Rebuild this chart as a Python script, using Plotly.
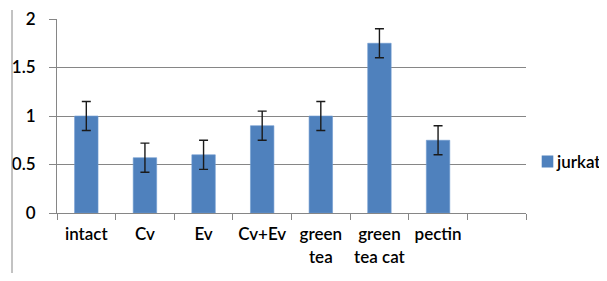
import plotly.graph_objects as go

categories = ["intact", "Cv", "Ev", "Cv+Ev", "green<br>tea", "green<br>tea cat", "pectin", " "]
values = [1.0, 0.57, 0.60, 0.90, 1.0, 1.75, 0.75, None]
errors = [0.15, 0.15, 0.15, 0.15, 0.15, 0.15, 0.15, None]
series_name = "jurkat"
y_ticks = [0, 0.5, 1, 1.5, 2]
y_tick_labels = ["0", "0.5", "1", "1.5", "2"]

FONT = "Lato"
FS = 17
WEIGHT = 600
BAR_COLOR = "#4F81BD"
# page is shown with an 8px body margin; compensate (no vertical overflow)
OFF = 8
W, H = 607 - OFF, 281 - 2 * OFF
L, T = 57 - OFF, 19 - OFF
PW, PH = 469, 194


def px(page_x):
    return (page_x - OFF - L) / PW


def py(page_y):
    return (PH - (page_y - OFF - T)) / PH


fig = go.Figure()
fig.add_trace(go.Bar(
    x=categories, y=values, name=series_name, showlegend=False,
    marker=dict(color=BAR_COLOR, line=dict(color="#6E9AD0", width=0.6)),
    error_y=dict(type="data", array=errors, visible=True,
                 color="#1a1a1a", thickness=1.4, width=4.5),
    width=0.4,
))

fig.update_layout(
    width=W, height=H,
    margin=dict(l=L, r=W - L - PW, t=T, b=H - T - PH, autoexpand=False, pad=0),
    paper_bgcolor="white", plot_bgcolor="white",
    font=dict(family=FONT, size=FS, color="#000000"),
    bargap=0.6,
)

fig.update_xaxes(
    type="category", categoryorder="array", categoryarray=categories,
    showline=True, linecolor="#868686", linewidth=1,
    ticks="outside", tickson="boundaries", ticklen=6, tickcolor="#868686",
    showgrid=False, zeroline=False, automargin=False,
    tickangle=0, ticklabeloverflow="allow",
    ticklabelstandoff=6,
    tickfont=dict(family=FONT, size=FS, color="#000000", weight=WEIGHT),
)
fig.update_yaxes(
    range=[0, 2], tickvals=y_ticks, ticktext=y_tick_labels,
    showline=True, linecolor="#868686", linewidth=1,
    ticks="outside", ticklen=7, tickcolor="#868686",
    showgrid=True, gridcolor="#868686", gridwidth=1,
    zeroline=False, automargin=False, ticklabeloverflow="allow",
    ticklabelstandoff=10,
    tickfont=dict(family=FONT, size=FS, color="#000000", weight=WEIGHT),
)

# legend (drawn manually to match the compact Excel-style key)
fig.add_shape(type="rect", xref="paper", yref="paper",
              x0=px(541.7), x1=px(553.3), y0=py(167.5), y1=py(155.5),
              fillcolor=BAR_COLOR, line=dict(width=0))
fig.add_annotation(text=series_name, xref="paper", yref="paper",
                   x=px(554), y=py(161), xanchor="left", yanchor="middle",
                   showarrow=False,
                   font=dict(family=FONT, size=FS, color="#000000", weight=WEIGHT))

# left border line of the frame (page x = 12)
fig.add_shape(type="line", xref="paper", yref="paper",
              x0=px(12), x1=px(12), y0=py(OFF + H), y1=py(10),
              line=dict(color="#868686", width=1))

fig.write_html("out.html")
